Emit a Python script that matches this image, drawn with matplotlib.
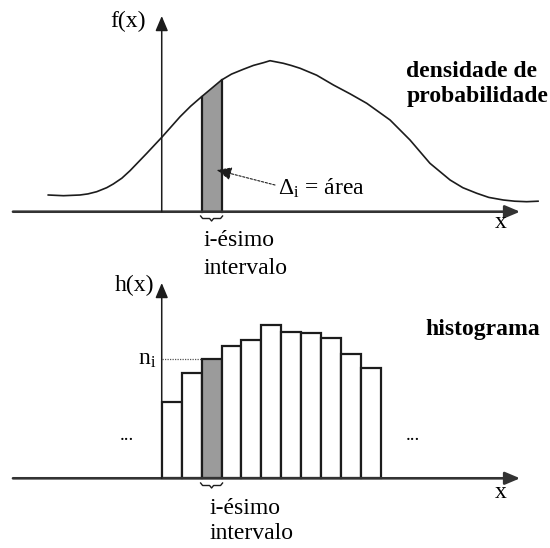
import matplotlib.pyplot as plt
import numpy as np

plt.rcParams['font.family'] = ['Liberation Serif', 'DejaVu Serif']
plt.rcParams['mathtext.fontset'] = 'custom'
plt.rcParams['mathtext.rm'] = 'Liberation Serif'
plt.rcParams['mathtext.it'] = 'Liberation Serif:italic'

# density curve, x in bin units (bin i spans [i, i+1]), f in height units
curve_x = [-5.69, -4.93, -4.10, -3.70, -3.26, -2.76, -2.43, -2.00, -1.59, -0.75,
           0.03, 0.92, 1.45, 2.0, 3.0, 3.50, 4.09, 4.60, 5.10, 5.43,
           6.10, 6.50, 6.94, 7.77, 8.61, 9.45, 10.28, 11.45, 12.45, 13.45,
           14.46, 15.10, 15.80, 16.40, 17.13, 17.70, 18.30, 18.87]
curve_f = [16.7, 16.0, 16.7, 17.8, 20.0, 24.0, 27.7, 33.5, 41.0, 58.4,
           75.0, 95.0, 105.5, 115.0, 131.7, 137.6, 142.4, 146.3, 149.0, 151.0,
           148.4, 146.2, 143.4, 136.5, 126.7, 117.8, 108.4, 91.7, 71.7, 48.4,
           31.7, 24.0, 18.4, 14.3, 11.7, 10.5, 10.0, 10.5]

# histogram heights, one per bin
hist_h = [76.6, 105.0, 119.0, 132.3, 138.3, 153.3, 146.6, 145.0, 140.0, 124.0, 110.6]
sel = 2  # i-th interval

ink = '#1c1c1c'
grey = '#9b9b9b'
fs = 17

fig = plt.figure(figsize=(5.5, 5.48), dpi=100)
ax1 = fig.add_axes([0, 0.5, 1, 0.5])
ax2 = fig.add_axes([0, 0, 1, 0.5])
ax1.set_xlim(-8.11, 19.47)
ax1.set_ylim(-62.3, 211.7)
ax2.set_xlim(-8.11, 19.47)
ax2.set_ylim(-69.7, 204.3)
for ax in (ax1, ax2):
    ax.axis('off')


def axes_arrows(ax, ytop):
    ax.annotate('', xy=(17.97, 0), xytext=(-7.46, 0),
                arrowprops=dict(arrowstyle='-|>,head_length=0.9,head_width=0.38',
                                mutation_scale=10, color='#333333', lw=1.9,
                                shrinkA=0, shrinkB=0))
    ax.annotate('', xy=(0, ytop), xytext=(0, 0),
                arrowprops=dict(arrowstyle='-|>,head_length=0.9,head_width=0.38',
                                mutation_scale=10, color=ink, lw=1.1,
                                shrinkA=0, shrinkB=0))


def brace(ax, x0, x1, y):
    xm = (x0 + x1) / 2
    bx = [x0, x0 + 0.1, xm - 0.1, xm, xm + 0.1, x1 - 0.1, x1]
    by = [y, y - 2.5, y - 2.5, y - 5, y - 2.5, y - 2.5, y]
    ax.plot(bx, by, color=ink, lw=1.0)


# --- top: probability density ---
axes_arrows(ax1, 195.7)
ax1.plot(curve_x, curve_f, color=ink, lw=1.2, solid_joinstyle='round')
i0 = curve_x.index(float(sel))
i1 = curve_x.index(float(sel + 1))
ax1.fill([sel, sel, sel + 1, sel + 1], [0, curve_f[i0], curve_f[i1], 0],
         facecolor=grey, edgecolor='none')
ax1.plot([sel, sel], [0, curve_f[i0]], color=ink, lw=1.6)
ax1.plot([sel + 1, sel + 1], [0, curve_f[i1]], color=ink, lw=1.6)
ax1.annotate('', xy=(2.76, 41.7), xytext=(5.68, 26.7),
             arrowprops=dict(arrowstyle='-|>,head_length=0.9,head_width=0.4',
                             mutation_scale=10, color=ink, lw=0.8,
                             linestyle=(0, (2, 1.5)), shrinkA=0, shrinkB=0))
ax1.text(5.84, 23.7, r'$\Delta_\mathrm{i}$ = área', fontsize=fs, ha='left', va='center')
ax1.text(-1.69, 190, 'f(x)', fontsize=fs, ha='center', va='center')
ax1.text(17.02, -11, 'x', fontsize=fs, ha='center', va='center')
ax1.text(12.26, 127.7, 'densidade de\nprobabilidade', fontsize=fs, fontweight='bold',
         ha='left', va='center', linespacing=1.2)
brace(ax1, sel - 0.05, sel + 1.05, -4.3)
ax1.text(2.07, -28.3, 'i-ésimo', fontsize=fs, ha='left', va='center')
ax1.text(2.07, -56.6, 'intervalo', fontsize=fs, ha='left', va='center')

# --- bottom: histogram ---
axes_arrows(ax2, 195.3)
colors = [grey if i == sel else 'white' for i in range(len(hist_h))]
ax2.bar(range(len(hist_h)), hist_h, width=1, align='edge', color=colors,
        edgecolor=ink, linewidth=1.6)
ax2.plot([0, sel], [hist_h[sel], hist_h[sel]], color='#555555', lw=0.9, linestyle=(0, (1, 1)))
ax2.text(-0.29, hist_h[sel], r'n$_\mathrm{i}$', fontsize=fs, ha='right', va='center')
ax2.text(-1.36, 193.3, 'h(x)', fontsize=fs, ha='center', va='center')
ax2.text(17.02, -13.7, 'x', fontsize=fs, ha='center', va='center')
ax2.text(13.2, 148.3, 'histograma', fontsize=fs, fontweight='bold', ha='left', va='center')
ax2.text(-2.09, 43, '...', fontsize=14, ha='left', va='center')
ax2.text(12.25, 43, '...', fontsize=14, ha='left', va='center')
brace(ax2, sel - 0.05, sel + 1.05, -4.7)
ax2.text(2.42, -29.9, 'i-ésimo', fontsize=fs, ha='left', va='center')
ax2.text(2.42, -54.9, 'intervalo', fontsize=fs, ha='left', va='center')

fig.savefig('out.png', dpi=100)
